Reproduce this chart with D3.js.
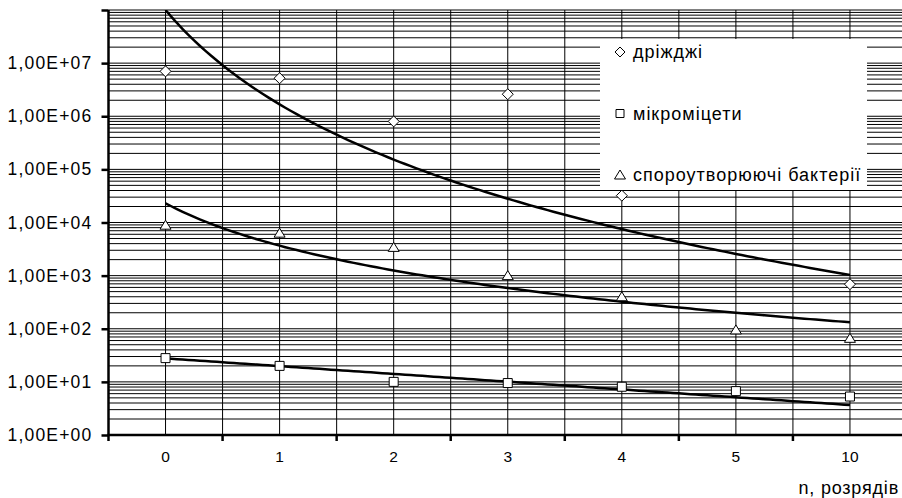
<!DOCTYPE html>
<html>
<head>
<meta charset="utf-8">
<script src="https://cdn.jsdelivr.net/npm/d3@7"></script>
<style>
  html, body { margin: 0; padding: 0; background: #fff; }
  svg text { font-family: "Liberation Sans", Arial, sans-serif; fill: #000; }
</style>
</head>
<body>
<div id="chart"></div>
<script>
// categories on the x axis (n, розрядів)
const categories = ['0', '1', '2', '3', '4', '5', '10'];

// measured values, null = no point
const yeastValues = [7.0e6, 5.2e6, 8.0e5, 2.6e6, 3.2e4, null, 690];
const micromycetesValues = [28, 20, 10, 9.5, 8.1, 6.7, 5.3];
const bacteriaValues = [8.9e3, 6.3e3, 3.4e3, 1.0e3, 400, 95, 66];

// trendlines (x = category index 1..7)
const yeastTrend = { type: 'power', a: 1.0e8, b: -5.9 };
const micromycetesTrend = { type: 'exp', a: 38.8, b: -0.337 };
const bacteriaTrend = { type: 'power', a: 2.3e4, b: -2.65 };

const yTickValues = [1e0, 1e1, 1e2, 1e3, 1e4, 1e5, 1e6, 1e7, 1e8];
const legendLabels = ['дріжджі', 'мікроміцети', 'спороутворюючі бактерії'];
const xTitle = 'n, розрядів';

class LogScatterChart {

  constructor(containerEl, props) {
    this.props = props;
    const { width, height } = props;
    this.svg = d3.select(containerEl)
      .append('svg')
      .style('background-color', 'white')
      .attr('width', width)
      .attr('height', height);
    this.draw();
  }

  markerPath = (shape, s) => {
    if (shape === 'diamond') return `M0,${-s}L${s},0L0,${s}L${-s},0Z`;
    if (shape === 'square') return `M${-s},${-s}H${s}V${s}H${-s}Z`;
    // triangle
    return `M0,${-s}L${s * 1.1},${s * 0.8}H${-s * 1.1}Z`;
  }

  trendValue = (t, x) => t.type === 'power' ? t.a * Math.pow(x, t.b) : t.a * Math.exp(t.b * x);

  draw = () => {
    const { svg, props: { width, height } } = this;
    const left = 108.5, right = 907, top = 10, bottom = 435;

    const x = d3.scaleBand().domain(categories).range([left, right]);
    const xIdx = d3.scaleLinear().domain([1, categories.length])
      .range([x(categories[0]) + x.bandwidth() / 2, x(categories[categories.length - 1]) + x.bandwidth() / 2]);
    const y = d3.scaleLog().domain([1, 1e8]).range([bottom, top]);

    svg.append('clipPath').attr('id', 'plot-clip')
      .append('rect').attr('x', left).attr('y', top).attr('width', right - left).attr('height', bottom - top);

    // horizontal grid: decades + minor 2..9
    const hLines = [];
    for (let k = 0; k < 8; k++) {
      for (let m = 1; m <= 9; m++) hLines.push(m * Math.pow(10, k));
    }
    hLines.push(1e8);
    svg.append('g').selectAll('line')
      .data(hLines)
      .join('line')
      .attr('x1', left).attr('x2', width)
      .attr('y1', d => y(d)).attr('y2', d => y(d))
      .attr('stroke', '#000').attr('stroke-width', 1);

    // vertical grid at category centres and boundaries
    const vLines = [];
    categories.forEach(c => {
      vLines.push(x(c) + x.bandwidth() / 2);
      vLines.push(x(c) + x.bandwidth());
    });
    svg.append('g').selectAll('line')
      .data(vLines.filter(v => v < width))
      .join('line')
      .attr('x1', d => d).attr('x2', d => d)
      .attr('y1', top).attr('y2', bottom)
      .attr('stroke', '#000').attr('stroke-width', 1);

    // legend box (covers the grid)
    const legend = svg.append('g');
    legend.append('rect')
      .attr('x', 600).attr('y', 39).attr('width', 267).attr('height', 151)
      .attr('fill', '#fff');
    const legendShapes = ['diamond', 'square', 'triangle'];
    legendLabels.forEach((label, i) => {
      const ly = 52 + i * 61.5;
      legend.append('path')
        .attr('transform', `translate(620,${ly})`)
        .attr('d', this.markerPath(legendShapes[i], i === 1 ? 4 : 5))
        .attr('fill', '#fff').attr('stroke', '#000').attr('stroke-width', 1);
      legend.append('text')
        .attr('x', 633).attr('y', ly + 6)
        .style('font-size', '18px')
        .style('letter-spacing', '1px')
        .text(label);
    });

    // trendlines
    const plot = svg.append('g').attr('clip-path', 'url(#plot-clip)');
    const samples = d3.range(1, categories.length + 0.001, 0.05);
    const line = d3.line().x(d => xIdx(d[0])).y(d => y(d[1]));
    [yeastTrend, micromycetesTrend, bacteriaTrend].forEach(t => {
      plot.append('path')
        .attr('d', line(samples.map(s => [s, this.trendValue(t, s)])))
        .attr('fill', 'none').attr('stroke', '#000').attr('stroke-width', 2.5);
    });

    // markers
    const series = [
      { values: yeastValues, shape: 'diamond', size: 5.5 },
      { values: micromycetesValues, shape: 'square', size: 4.5 },
      { values: bacteriaValues, shape: 'triangle', size: 5 }
    ];
    series.forEach(s => {
      svg.append('g').selectAll('path')
        .data(s.values.map((v, i) => ({ c: categories[i], v })).filter(d => d.v != null))
        .join('path')
        .attr('transform', d => `translate(${x(d.c) + x.bandwidth() / 2},${y(d.v)})`)
        .attr('d', this.markerPath(s.shape, s.size))
        .attr('fill', '#fff').attr('stroke', '#000').attr('stroke-width', 1);
    });

    // y axis
    const yAxis = svg.append('g')
      .attr('transform', `translate(${left},0)`)
      .call(d3.axisLeft(y).tickValues(yTickValues).tickSize(7).tickPadding(9)
        .tickFormat(d => d === 1e8 ? '' : d3.format('.2e')(d).replace('.', ',').replace(/e([+-])(\d)$/, 'E$10$2').replace('e', 'E')));
    yAxis.select('.domain').attr('stroke-width', 2.5).attr('d', `M0,${top}V${bottom}`);
    yAxis.selectAll('.tick line').attr('stroke-width', 2.5);
    yAxis.selectAll('.tick text')
      .style('font-size', '17.5px').style('letter-spacing', '1.2px')
      .attr('font-family', null);

    // x axis
    const xAxis = svg.append('g')
      .attr('transform', `translate(0,${bottom})`);
    xAxis.append('line')
      .attr('x1', left - 1).attr('x2', width)
      .attr('y1', 0).attr('y2', 0)
      .attr('stroke', '#000').attr('stroke-width', 2.5);
    xAxis.selectAll('.xtick')
      .data(categories)
      .join('line')
      .attr('x1', d => x(d)).attr('x2', d => x(d))
      .attr('y1', 0).attr('y2', 6)
      .attr('stroke', '#000').attr('stroke-width', 2.5);
    xAxis.selectAll('.xlabel')
      .data(categories)
      .join('text')
      .attr('x', d => x(d) + x.bandwidth() / 2)
      .attr('y', 27)
      .attr('text-anchor', 'middle')
      .style('font-size', '15.5px')
      .text(d => d);

    svg.append('text')
      .attr('x', 899).attr('y', 494)
      .attr('text-anchor', 'end')
      .style('font-size', '18px')
      .style('letter-spacing', '0.8px')
      .text(xTitle);
  }
}

new LogScatterChart(document.getElementById('chart'), { width: 902, height: 498 });
</script>
</body>
</html>
